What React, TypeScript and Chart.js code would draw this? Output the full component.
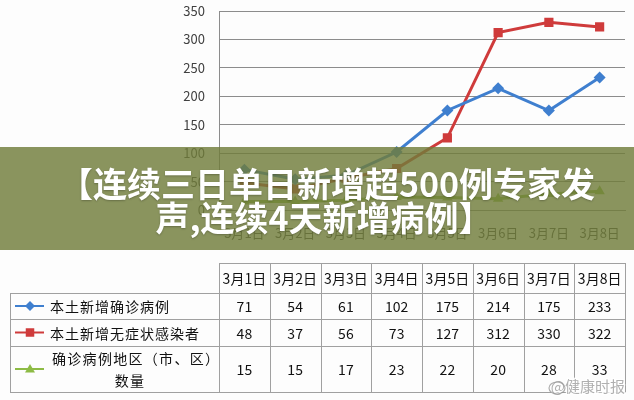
import React, { useEffect, useRef } from "react";
import { Chart, registerables } from "chart.js";
Chart.register(...registerables);

const categories = ["3月1日", "3月2日", "3月3日", "3月4日", "3月5日", "3月6日", "3月7日", "3月8日"];
const confirmed = [71, 54, 61, 102, 175, 214, 175, 233];
const asymptomatic = [48, 37, 56, 73, 127, 312, 330, 322];
const regionCount = [15, 15, 17, 23, 22, 20, 28, 33];
const yTicks = [0, 50, 100, 150, 200, 250, 300, 350];
const tableLabels = [["本土新增确诊病例"], ["本土新增无症状感染者"], ["确诊病例地区（市、区）", "数量"]];
const titleLines = ["【连续三日单日新增超500例专家发", "声,连续4天新增病例】"];
const watermark = "@健康时报";

const BLUE = "#3f7fcf";
const RED = "#cf3b3b";
const GREEN = "#8dbb45";
const FONT = "'Noto Sans CJK SC', 'Noto Sans', sans-serif";

function drawMarker(ctx: CanvasRenderingContext2D, style: string, x: number, y: number, r: number) {
  ctx.beginPath();
  if (style === "rectRot") {
    ctx.moveTo(x, y - r);
    ctx.lineTo(x + r, y);
    ctx.lineTo(x, y + r);
    ctx.lineTo(x - r, y);
  } else if (style === "rect") {
    ctx.rect(x - r * 0.85, y - r * 0.85, r * 1.7, r * 1.7);
  } else {
    ctx.moveTo(x, y - r);
    ctx.lineTo(x + r, y + r * 0.7);
    ctx.lineTo(x - r, y + r * 0.7);
  }
  ctx.closePath();
  ctx.fill();
}

const overlayPlugin = {
  id: "tableAndBanner",
  afterDraw(chart: any) {
    const ctx = chart.ctx as CanvasRenderingContext2D;
    const xs = chart.scales.x;
    const centers = categories.map((_, i) => xs.getPixelForValue(i));
    const half = (centers[1] - centers[0]) / 2;
    const left = 10;
    const colLeft = centers[0] - half;
    const right = centers[centers.length - 1] + half;
    const headTop = 263;
    const rowTops = [293, 319, 346];
    const bottom = 392;
    const rows = [confirmed, asymptomatic, regionCount];
    const colors = [BLUE, RED, GREEN];
    const styles = ["rectRot", "rect", "triangle"];

    ctx.save();
    ctx.strokeStyle = "#a0a0a0";
    ctx.lineWidth = 1;
    const hl = (x1: number, x2: number, y: number) => {
      ctx.beginPath();
      ctx.moveTo(Math.round(x1), Math.round(y) + 0.5);
      ctx.lineTo(Math.round(x2) + 1, Math.round(y) + 0.5);
      ctx.stroke();
    };
    const vl = (x: number, y1: number, y2: number) => {
      ctx.beginPath();
      ctx.moveTo(Math.round(x) + 0.5, Math.round(y1));
      ctx.lineTo(Math.round(x) + 0.5, Math.round(y2) + 1);
      ctx.stroke();
    };
    hl(colLeft, right, headTop);
    rowTops.forEach((y) => hl(left, right, y));
    hl(left, right, bottom);
    vl(left, rowTops[0], bottom);
    for (let i = 0; i <= categories.length; i++) {
      vl(colLeft + i * half * 2, headTop, bottom);
    }

    ctx.fillStyle = "#111";
    ctx.textAlign = "center";
    ctx.textBaseline = "middle";
    ctx.font = `14px ${FONT}`;
    categories.forEach((c, i) => ctx.fillText(c, centers[i], (headTop + rowTops[0]) / 2 + 1));
    rows.forEach((vals, r) => {
      const top = rowTops[r];
      const bot = r + 1 < rowTops.length ? rowTops[r + 1] : bottom;
      const cy = (top + bot) / 2 + 1;
      ctx.fillStyle = "#111";
      vals.forEach((v, i) => ctx.fillText(String(v), centers[i], cy));
      // legend key
      ctx.strokeStyle = colors[r];
      ctx.lineWidth = 2;
      ctx.beginPath();
      ctx.moveTo(15, cy - 1);
      ctx.lineTo(44, cy - 1);
      ctx.stroke();
      ctx.fillStyle = colors[r];
      drawMarker(ctx, styles[r], 30, cy - 1, 5);
      ctx.fillStyle = "#111";
      const lines = tableLabels[r];
      (ctx as any).letterSpacing = "1px";
      if (lines.length === 1) {
        ctx.textAlign = "left";
        ctx.fillText(lines[0], 50, cy);
      } else {
        ctx.textAlign = "left";
        (ctx as any).letterSpacing = "1.3px";
        ctx.fillText(lines[0], 52, cy - 11);
        ctx.textAlign = "center";
        ctx.fillText(lines[1], 130, cy + 11);
      }
      (ctx as any).letterSpacing = "0px";
      ctx.textAlign = "center";
    });

    // watermark
    ctx.font = `15px ${FONT}`;
    ctx.textAlign = "right";
    ctx.lineWidth = 2.5;
    ctx.strokeStyle = "rgba(255,255,255,0.9)";
    ctx.strokeText(watermark, 625, 386);
    ctx.fillStyle = "rgba(150,150,150,0.75)";
    ctx.fillText(watermark, 625, 386);
    ctx.beginPath();
    ctx.strokeStyle = "rgba(150,150,150,0.75)";
    ctx.lineWidth = 1.2;
    ctx.ellipse(557, 388, 8, 6, 0, 0, Math.PI * 2);
    ctx.stroke();

    // banner
    ctx.fillStyle = "rgba(112,124,58,0.82)";
    ctx.fillRect(0, 147, chart.width, 103);
    ctx.fillStyle = "#ffffff";
    ctx.font = `bold 34px ${FONT}`;
    ctx.textAlign = "center";
    ctx.textBaseline = "middle";
    ctx.shadowColor = "rgba(0,0,0,0.25)";
    ctx.shadowBlur = 2;
    ctx.shadowOffsetY = 1;
    (ctx as any).letterSpacing = "0px";
    ctx.fillText(titleLines[0], 327, 184);
    ctx.fillText(titleLines[1], 324, 218);
    ctx.restore();
  },
};

const bgPlugin = {
  id: "bg",
  beforeDraw(chart: any) {
    const ctx = chart.ctx;
    ctx.save();
    ctx.fillStyle = "#fdfdfd";
    ctx.fillRect(0, 0, chart.width, chart.height);
    ctx.restore();
  },
};

export default function App() {
  const ref = useRef<HTMLCanvasElement>(null);
  useEffect(() => {
    if (!ref.current) return;
    Chart.defaults.font.family = FONT;
    const chart = new Chart(ref.current, {
      type: "line",
      data: {
        labels: categories,
        datasets: [
          {
            label: tableLabels[0].join(""),
            data: confirmed,
            borderColor: BLUE,
            backgroundColor: BLUE,
            borderWidth: 3,
            pointStyle: "rectRot",
            pointRadius: 6,
            pointBorderWidth: 0,
            tension: 0,
          },
          {
            label: tableLabels[1].join(""),
            data: asymptomatic,
            borderColor: RED,
            backgroundColor: RED,
            borderWidth: 3,
            pointStyle: "rect",
            pointRadius: 6.5,
            pointBorderWidth: 0,
            tension: 0,
          },
          {
            label: tableLabels[2].join(""),
            data: regionCount,
            borderColor: GREEN,
            backgroundColor: GREEN,
            borderWidth: 3,
            pointStyle: "triangle",
            pointRadius: 6,
            pointBorderWidth: 0,
            tension: 0,
          },
        ],
      },
      options: {
        responsive: false,
        animation: false,
        layout: { padding: { left: 0, right: 9, top: 11, bottom: 150 } },
        plugins: { legend: { display: false }, tooltip: { enabled: false } },
        scales: {
          x: {
            offset: true,
            grid: { display: false, drawTicks: false },
            border: { display: true, color: "#8c8c8c" },
            ticks: { color: "#404040", font: { size: 13 }, padding: 15, maxRotation: 0, autoSkip: false },
            afterFit: (s: any) => {
              s.height = 40;
              s.paddingLeft = 0;
              s.paddingRight = 0;
            },
          },
          y: {
            min: 0,
            max: 350,
            afterBuildTicks: (s: any) => {
              s.ticks = yTicks.map((v) => ({ value: v }));
            },
            grid: { color: "#8c8c8c", drawTicks: false },
            border: { display: true, color: "#8c8c8c" },
            ticks: { color: "#404040", font: { size: 13 }, padding: 14 },
            afterFit: (s: any) => {
              s.width = 219;
              s.paddingTop = 0;
              s.paddingBottom = 0;
            },
          },
        },
      },
      plugins: [bgPlugin, overlayPlugin],
    });
    return () => chart.destroy();
  }, []);
  return (
    <div style={{ position: "fixed", left: 0, top: 0, width: 634, height: 400 }}>
      <canvas ref={ref} width={634} height={400} style={{ width: 634, height: 400, display: "block" }} />
    </div>
  );
}
